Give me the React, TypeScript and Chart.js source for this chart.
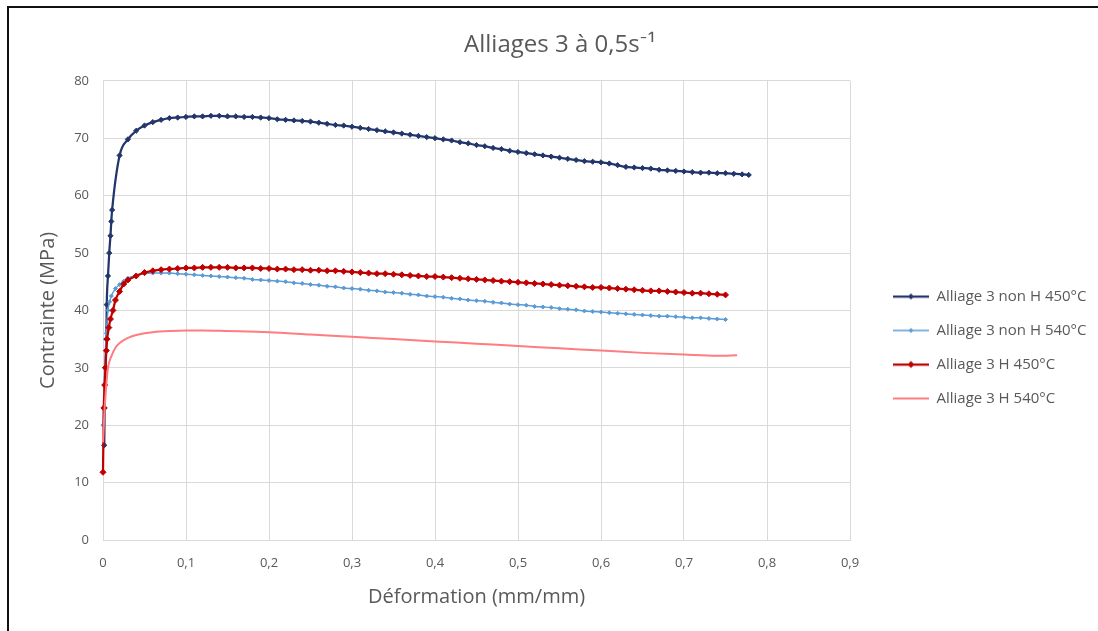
import { useEffect, useRef } from 'react';
import { Chart, registerables } from 'chart.js';

Chart.register(...registerables);

const TITLE = 'Alliages 3 à 0,5s⁻¹';
const X_TITLE = 'Déformation (mm/mm)';
const Y_TITLE = 'Contrainte (MPa)';

const SERIES_NAMES = [
  'Alliage 3 non H 450°C',
  'Alliage 3 non H 540°C',
  'Alliage 3 H 450°C',
  'Alliage 3 H 540°C',
];
const SERIES_COLORS = ['#22366B', '#5B9BD5', '#C00000', '#FF7C80'];

// shared strain grid for the slowly varying part of the curves
const TAIL_STRAIN = [
  0.04, 0.05, 0.06, 0.07, 0.08, 0.09, 0.10, 0.11, 0.12, 0.13,
  0.14, 0.15, 0.16, 0.17, 0.18, 0.19, 0.20, 0.21, 0.22, 0.23,
  0.24, 0.25, 0.26, 0.27, 0.28, 0.29, 0.30, 0.31, 0.32, 0.33,
  0.34, 0.35, 0.36, 0.37, 0.38, 0.39, 0.40, 0.41, 0.42, 0.43,
  0.44, 0.45, 0.46, 0.47, 0.48, 0.49, 0.50, 0.51, 0.52, 0.53,
  0.54, 0.55, 0.56, 0.57, 0.58, 0.59, 0.60, 0.61, 0.62, 0.63,
  0.64, 0.65, 0.66, 0.67, 0.68, 0.69, 0.70, 0.71, 0.72, 0.73,
  0.74, 0.75, 0.76, 0.77, 0.778,
];

// Alliage 3 non H 450°C
const NONH450_EARLY_STRAIN = [0.0015, 0.002, 0.003, 0.004, 0.0045, 0.006, 0.0075, 0.009, 0.010, 0.011, 0.020, 0.030];
const NONH450_EARLY_STRESS = [16.5, 23.0, 30.0, 35.0, 41.0, 46.0, 50.0, 53.0, 55.5, 57.5, 67.0, 69.8];
const NONH450_TAIL_STRESS = [
  71.3, 72.2, 72.8, 73.2, 73.5, 73.6, 73.7, 73.8, 73.8, 73.9,
  73.9, 73.8, 73.8, 73.7, 73.7, 73.6, 73.5, 73.3, 73.2, 73.1,
  73.0, 72.9, 72.7, 72.5, 72.3, 72.2, 72.0, 71.8, 71.6, 71.4,
  71.2, 71.0, 70.8, 70.6, 70.4, 70.2, 70.0, 69.8, 69.6, 69.3,
  69.1, 68.8, 68.6, 68.3, 68.1, 67.8, 67.6, 67.4, 67.2, 67.0,
  66.8, 66.6, 66.4, 66.2, 66.0, 65.9, 65.8, 65.6, 65.3, 65.0,
  64.9, 64.8, 64.7, 64.5, 64.4, 64.3, 64.2, 64.1, 64.0, 64.0,
  63.9, 63.9, 63.8, 63.7, 63.6,
];

// Alliage 3 non H 540°C
const NONH540_EARLY_STRAIN = [0, 0.002, 0.004, 0.006, 0.008, 0.010, 0.015, 0.020, 0.025, 0.030];
const NONH540_EARLY_STRESS = [20.0, 30.0, 36.0, 40.0, 41.5, 42.5, 43.8, 44.5, 45.1, 45.6];
const NONH540_TAIL_STRESS = [
  46.1, 46.4, 46.5, 46.5, 46.5, 46.4, 46.3, 46.2, 46.1, 46.0,
  45.9, 45.8, 45.7, 45.6, 45.4, 45.3, 45.2, 45.1, 45.0, 44.8,
  44.7, 44.5, 44.4, 44.2, 44.1, 43.9, 43.8, 43.7, 43.5, 43.4,
  43.2, 43.1, 43.0, 42.8, 42.7, 42.5, 42.4, 42.3, 42.1, 42.0,
  41.8, 41.7, 41.6, 41.4, 41.3, 41.1, 41.0, 40.9, 40.7, 40.6,
  40.5, 40.3, 40.2, 40.1, 39.9, 39.8, 39.7, 39.6, 39.5, 39.4,
  39.3, 39.2, 39.1, 39.0, 39.0, 38.9, 38.8, 38.7, 38.7, 38.6,
  38.5, 38.4,
];

// Alliage 3 H 450°C
const H450_EARLY_STRAIN = [0, 0.001, 0.002, 0.003, 0.004, 0.005, 0.007, 0.009, 0.012, 0.015, 0.020, 0.025, 0.030];
const H450_EARLY_STRESS = [11.8, 23.0, 27.0, 30.0, 33.0, 35.0, 37.0, 38.5, 40.0, 41.8, 43.3, 44.6, 45.3];
const H450_TAIL_STRESS = [
  46.0, 46.6, 46.9, 47.1, 47.2, 47.3, 47.4, 47.4, 47.5, 47.5,
  47.5, 47.5, 47.4, 47.4, 47.4, 47.3, 47.3, 47.2, 47.2, 47.1,
  47.1, 47.0, 47.0, 46.9, 46.9, 46.8, 46.7, 46.6, 46.5, 46.4,
  46.4, 46.3, 46.2, 46.1, 46.0, 45.9, 45.9, 45.8, 45.7, 45.6,
  45.5, 45.4, 45.3, 45.2, 45.1, 45.0, 44.9, 44.8, 44.7, 44.6,
  44.5, 44.4, 44.3, 44.2, 44.1, 44.0, 44.0, 43.9, 43.8, 43.7,
  43.6, 43.5, 43.4, 43.4, 43.3, 43.2, 43.1, 43.0, 43.0, 42.9,
  42.8, 42.7,
];

// Alliage 3 H 540°C
const H540_STRAIN = [
  0, 0.002, 0.004, 0.006, 0.010, 0.015, 0.020, 0.030, 0.040, 0.050,
  0.060, 0.080, 0.10, 0.12, 0.15, 0.20, 0.25, 0.30, 0.35, 0.40,
  0.45, 0.50, 0.55, 0.60, 0.65, 0.70, 0.74, 0.764,
];
const H540_STRESS = [
  17.0, 23.0, 27.0, 30.0, 32.0, 33.5, 34.3, 35.2, 35.7, 36.0,
  36.2, 36.4, 36.5, 36.5, 36.4, 36.2, 35.8, 35.4, 35.0, 34.6,
  34.2, 33.8, 33.4, 33.0, 32.6, 32.3, 32.1, 32.2,
];

const X_MAX = 0.9;
const Y_MAX = 80;

// layout targets (page pixels)
const W = 1098;
const H = 631;
const PLOT_RIGHT = 849;
const LEGEND_GAP = 44;
const LEGEND_DROP = 38;
const TITLE_CENTER = 560;

const FONT = "'Open Sans', Lato, 'DejaVu Sans', sans-serif";
const TEXT_COLOR = '#595959';
const GRID_COLOR = '#D9D9D9';
const LEGEND_FONT_SIZE = 15;
const LEGEND_PAD = 20;
const LEGEND_BOX = 36;

function toPoints(xs: number[], ys: number[]) {
  return ys.map((y, i) => ({ x: xs[i], y }));
}

function joinSeries(earlyX: number[], earlyY: number[], tailY: number[]) {
  const xs = [...earlyX, ...TAIL_STRAIN.slice(0, tailY.length)];
  const ys = [...earlyY, ...tailY];
  return toPoints(xs, ys);
}

function legendIcon(color: string, lineWidth: number, radius: number) {
  const c = document.createElement('canvas');
  c.width = LEGEND_BOX;
  c.height = 12;
  const g = c.getContext('2d')!;
  g.strokeStyle = color;
  g.lineWidth = lineWidth;
  g.beginPath();
  g.moveTo(0, 6);
  g.lineTo(LEGEND_BOX, 6);
  g.stroke();
  if (radius > 0) {
    g.fillStyle = color;
    g.beginPath();
    g.moveTo(18, 6 - radius);
    g.lineTo(18 + radius, 6);
    g.lineTo(18, 6 + radius);
    g.lineTo(18 - radius, 6);
    g.closePath();
    g.fill();
  }
  return c;
}

export default function App() {
  const ref = useRef<HTMLCanvasElement | null>(null);

  useEffect(() => {
    if (!ref.current) return;
    const lineWidths = [2.25, 1.5, 2.25, 2];
    const radii = [2.6, 2, 3, 0];
    const icons = SERIES_COLORS.map((c, i) => legendIcon(c, lineWidths[i], radii[i] > 0 ? radii[i] + 0.5 : 0));

    // measure the legend text so the plot area ends where the reference's does
    const m = document.createElement('canvas').getContext('2d')!;
    m.font = `${LEGEND_FONT_SIZE}px ${FONT}`;
    const textW = Math.max(...SERIES_NAMES.map((s) => m.measureText(s).width));
    const legendW = LEGEND_PAD * 1.5 + LEGEND_BOX + LEGEND_FONT_SIZE / 2 + textW;
    const padRight = Math.max(0, W - PLOT_RIGHT - legendW);

    const datasets = [
      joinSeries(NONH450_EARLY_STRAIN, NONH450_EARLY_STRESS, NONH450_TAIL_STRESS),
      joinSeries(NONH540_EARLY_STRAIN, NONH540_EARLY_STRESS, NONH540_TAIL_STRESS),
      joinSeries(H450_EARLY_STRAIN, H450_EARLY_STRESS, H450_TAIL_STRESS),
      toPoints(H540_STRAIN, H540_STRESS),
    ].map((data, i) => ({
      label: SERIES_NAMES[i],
      data,
      borderColor: SERIES_COLORS[i],
      backgroundColor: SERIES_COLORS[i],
      borderWidth: lineWidths[i],
      pointStyle: 'rectRot' as const,
      pointRadius: radii[i],
      pointBorderWidth: 1,
      pointBackgroundColor: SERIES_COLORS[i],
      pointBorderColor: SERIES_COLORS[i],
      cubicInterpolationMode: 'monotone' as const,
      clip: 8,
      order: 4 - i,
    }));

    const placeBlocks = {
      id: 'placeBlocks',
      afterLayout(chart: any) {
        const lg = chart.legend;
        if (lg) {
          const dx = LEGEND_GAP - LEGEND_PAD;
          lg.left += dx;
          lg.right += dx;
          lg.top += LEGEND_DROP;
          lg.bottom += LEGEND_DROP;
        }
        const t = chart.titleBlock;
        if (t) {
          const dx = TITLE_CENTER - (t.left + t.right) / 2;
          t.left += dx;
          t.right += dx;
        }
      },
    };

    const chart = new Chart(ref.current, {
      type: 'line',
      data: { datasets },
      plugins: [placeBlocks],
      options: {
        animation: false,
        responsive: false,
        maintainAspectRatio: false,
        layout: { padding: { left: 35, right: padRight, top: 6, bottom: 18 } },
        plugins: {
          title: {
            display: true,
            text: TITLE,
            color: TEXT_COLOR,
            font: { family: FONT, size: 24, weight: 'normal' },
            padding: { top: 25, bottom: 21 },
          },
          legend: {
            position: 'right',
            align: 'center',
            labels: {
              color: TEXT_COLOR,
              font: { family: FONT, size: LEGEND_FONT_SIZE },
              usePointStyle: true,
              pointStyleWidth: LEGEND_BOX,
              boxHeight: 12,
              padding: LEGEND_PAD - 1,
              generateLabels: (ch: any) =>
                ch.data.datasets.map((ds: any, i: number) => ({
                  text: ds.label,
                  pointStyle: icons[i],
                  fillStyle: SERIES_COLORS[i],
                  strokeStyle: SERIES_COLORS[i],
                  lineWidth: 0,
                  fontColor: TEXT_COLOR,
                  hidden: false,
                  datasetIndex: i,
                })),
            },
          },
          tooltip: { enabled: false },
        },
        scales: {
          x: {
            type: 'linear',
            min: 0,
            max: X_MAX,
            afterFit: (s: any) => { s.height = 73; },
            ticks: {
              stepSize: 0.1,
              color: TEXT_COLOR,
              font: { family: FONT, size: 13 },
              padding: 15,
              callback: (v: any) => String(Math.round(Number(v) * 10) / 10).replace('.', ','),
            },
            grid: { color: GRID_COLOR, drawTicks: false, lineWidth: 1 },
            border: { color: GRID_COLOR },
            title: {
              display: true,
              text: X_TITLE,
              color: TEXT_COLOR,
              font: { family: FONT, size: 20 },
              padding: { top: 4, bottom: 4 },
            },
          },
          y: {
            type: 'linear',
            min: 0,
            max: Y_MAX,
            afterFit: (s: any) => { s.width = 68; },
            ticks: {
              stepSize: 10,
              color: TEXT_COLOR,
              font: { family: FONT, size: 13 },
              padding: 14,
            },
            grid: { color: GRID_COLOR, drawTicks: false, lineWidth: 1 },
            border: { color: GRID_COLOR },
            title: {
              display: true,
              text: Y_TITLE,
              color: TEXT_COLOR,
              font: { family: FONT, size: 20 },
              padding: { top: 1, bottom: 4 },
            },
          },
        },
      } as any,
    });
    return () => chart.destroy();
  }, []);

  return (
    <div style={{ position: 'absolute', left: 0, top: 0, width: W, height: H, background: '#fff', overflow: 'hidden' }}>
      <canvas ref={ref} width={W} height={H} style={{ position: 'absolute', left: 0, top: 0 }} />
      <div
        style={{
          position: 'absolute',
          left: 7,
          top: 6,
          width: W - 7,
          height: H - 6,
          borderTop: '2px solid #111',
          borderLeft: '2px solid #111',
          pointerEvents: 'none',
          boxSizing: 'border-box',
        }}
      />
    </div>
  );
}
